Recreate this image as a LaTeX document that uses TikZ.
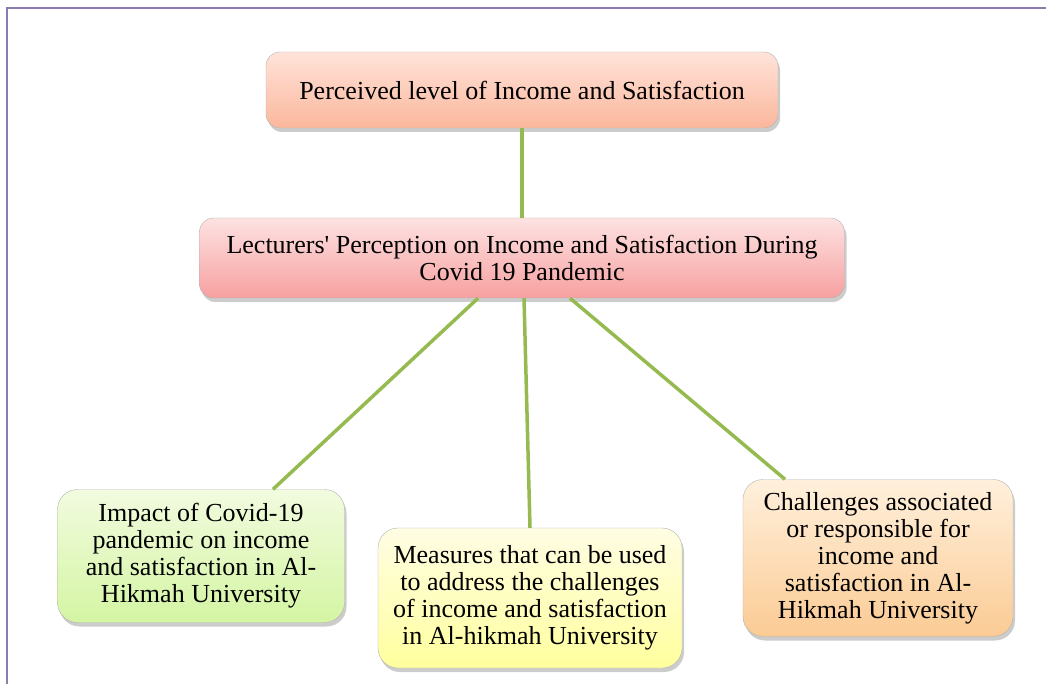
\documentclass[tikz,border=0pt]{standalone}
\usepackage{fontspec}
\setmainfont{Liberation Serif}[Ligatures=TeXOff]
\usetikzlibrary{shadows}
\definecolor{framepurple}{HTML}{8C7BAE}
\definecolor{linkgreen}{HTML}{95BB50}
\tikzset{
  box/.style={
    shape = rectangle,
    draw = gray!60,
    rounded corners = 14pt,
    align = center,
    inner sep = 0pt,
    font = \fontsize{26}{27}\selectfont,
    drop shadow = {shadow xshift=2pt, shadow yshift=-4pt, opacity=0.4}
  },
  peach/.style={box, top color={rgb,255:red,255;green,227;blue,218}, bottom color={rgb,255:red,251;green,183;blue,156}},
  rose/.style={box, top color={rgb,255:red,253;green,226;blue,226}, bottom color={rgb,255:red,247;green,160;blue,160}},
  leaf/.style={box, rounded corners=20pt, top color={rgb,255:red,242;green,251;blue,223}, bottom color={rgb,255:red,212;green,245;blue,163}},
  lemon/.style={box, rounded corners=20pt, top color={rgb,255:red,255;green,253;blue,227}, bottom color={rgb,255:red,255;green,255;blue,158}},
  apricot/.style={box, rounded corners=20pt, top color={rgb,255:red,255;green,240;blue,220}, bottom color={rgb,255:red,251;green,203;blue,148}},
  link/.style={draw=linkgreen, line width=3.5pt},
  frame/.style={draw=framepurple, line width=1.5pt}
}

\begin{document}
\begin{tikzpicture}[x=1pt,y=-1pt]
    \useasboundingbox (0,0) rectangle (1046,684);
    \draw[frame] (7,684) -- (7,8) -- (1046,8);

    \node[peach, minimum width=512pt, minimum height=76pt] (level) at (522,90)
        {Perceived level of Income and Satisfaction};
    \node[rose, minimum width=645pt, minimum height=80pt] (lect) at (522,258)
        {Lecturers' Perception on Income and Satisfaction During\\Covid 19 Pandemic};
    \node[leaf, minimum width=287pt, minimum height=133pt] (impact) at (201,556)
        {Impact of Covid-19\\pandemic on income\\and satisfaction in Al-\\Hikmah University};
    \node[lemon, minimum width=304pt, minimum height=140pt] (measure) at (530,598)
        {Measures that can be used\\to address the challenges\\of income and satisfaction\\in Al-hikmah University};
    \node[apricot, minimum width=270pt, minimum height=157pt] (chall) at (878,558)
        {Challenges associated\\or responsible for\\income and\\satisfaction in Al-\\Hikmah University};

    \draw[link] (level) -- (lect);
    \draw[link] ([xshift=-44pt]lect.south) -- ([xshift=72pt]impact.north);
    \draw[link] ([xshift=2pt]lect.south) -- (measure.north);
    \draw[link] ([xshift=48pt]lect.south) -- ([xshift=-93pt]chall.north);
\end{tikzpicture}
\end{document}
